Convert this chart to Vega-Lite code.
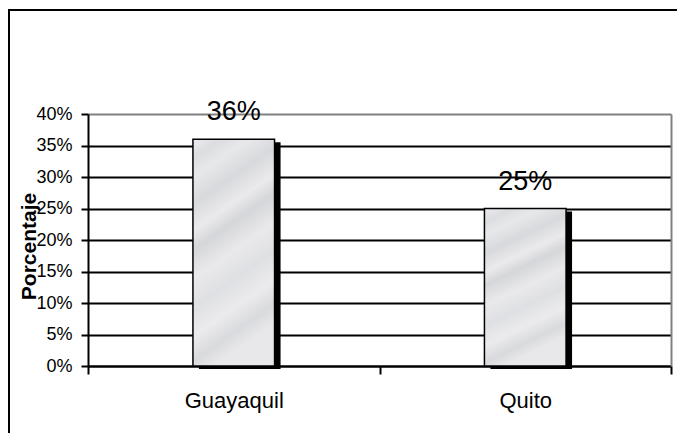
{
  "$schema": "https://vega.github.io/schema/vega-lite/v6.json",
  "width": 690,
  "height": 428,
  "autosize": {"type": "none"},
  "padding": {"left": 9, "top": 10, "right": -22, "bottom": -5},
  "background": "white",
  "config": {
    "view": {"stroke": "black", "strokeWidth": 2, "clip": false},
    "font": "Liberation Sans",
    "axis": {"labelFont": "Liberation Sans", "titleFont": "Liberation Sans", "labelColor": "black", "titleColor": "black"}
  },
  "data": {
    "values": [
      {"ciudad": "Guayaquil", "porcentaje": 0.36},
      {"ciudad": "Quito", "porcentaje": 0.25}
    ]
  },
  "encoding": {
    "x": {
      "field": "ciudad",
      "type": "nominal",
      "sort": null,
      "scale": {"range": [79, 662], "paddingInner": 0, "paddingOuter": 0},
      "axis": {
        "title": null,
        "orient": "bottom",
        "offset": -72,
        "grid": false,
        "domainColor": "black",
        "domainWidth": 2,
        "tickBand": "extent",
        "tickColor": "black",
        "tickWidth": 2,
        "tickSize": 8,
        "labelAngle": 0,
        "labelFontSize": 22,
        "labelPadding": 16
      }
    },
    "y": {
      "field": "porcentaje",
      "type": "quantitative",
      "scale": {"domain": [0, 0.4], "range": [356, 104], "nice": false, "zero": true}
    }
  },
  "resolve": {"axis": {"y": "independent"}},
  "layer": [
    {
      "mark": {"type": "bar", "width": {"band": 0.28}, "color": "black", "xOffset": 6, "yOffset": 3, "y2Offset": 2},
      "encoding": {
        "y": {
          "field": "porcentaje",
          "type": "quantitative",
          "axis": {
            "orient": "left",
            "offset": -79,
            "values": [0, 0.05, 0.1, 0.15, 0.2, 0.25, 0.3, 0.35, 0.4],
            "format": ".0%",
            "title": "Porcentaje",
            "titleFontWeight": "bold",
            "titleFontSize": 21,
            "titleAngle": -90,
            "titleX": -49,
            "titleY": 236,
            "labelFontSize": 18,
            "labelPadding": 9,
            "tickSize": 7,
            "tickColor": "black",
            "tickWidth": 2,
            "domainColor": "black",
            "domainWidth": 2,
            "grid": true,
            "gridColor": {"condition": {"test": "datum.value > 0.39", "value": "#808080"}, "value": "black"},
            "gridWidth": 2,
            "gridOpacity": 1
          }
        }
      }
    },
    {
      "mark": {
        "type": "bar",
        "width": {"band": 0.28},
        "stroke": "black",
        "strokeWidth": 1.5,
        "fill": {
          "gradient": "linear",
          "x1": 0, "y1": 0, "x2": 0.25, "y2": 1,
          "stops": [
            {"offset": 0, "color": "#ececef"},
            {"offset": 0.08, "color": "#dcdde0"},
            {"offset": 0.16, "color": "#e7e8ea"},
            {"offset": 0.27, "color": "#d8d9dc"},
            {"offset": 0.38, "color": "#eaeaec"},
            {"offset": 0.46, "color": "#d5d6d9"},
            {"offset": 0.58, "color": "#e9e9eb"},
            {"offset": 0.7, "color": "#dfe0e3"},
            {"offset": 0.82, "color": "#ebebed"},
            {"offset": 0.92, "color": "#d9dadd"},
            {"offset": 1, "color": "#e8e8ea"}
          ]
        }
      },
      "encoding": {"y": {"field": "porcentaje", "type": "quantitative", "axis": null}}
    },
    {
      "mark": {"type": "text", "fontSize": 27, "baseline": "alphabetic", "dy": -19, "color": "black"},
      "encoding": {
        "y": {
          "field": "porcentaje",
          "type": "quantitative",
          "axis": {
            "orient": "right",
            "offset": -28,
            "title": null,
            "labels": false,
            "ticks": false,
            "grid": false,
            "domainColor": "#808080",
            "domainWidth": 2
          }
        },
        "text": {"field": "porcentaje", "type": "quantitative", "format": ".0%"}
      }
    }
  ]
}
